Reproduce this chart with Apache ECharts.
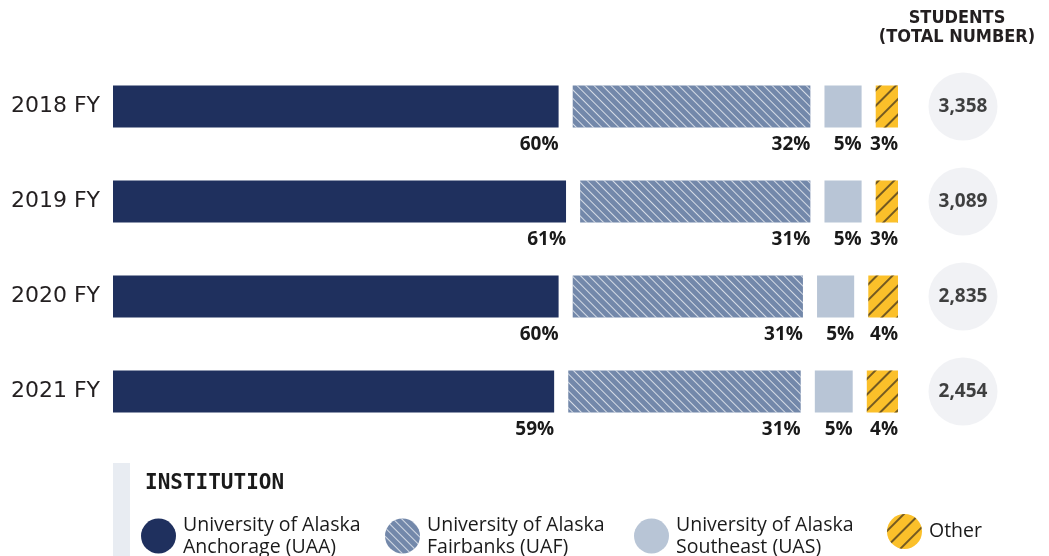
<!DOCTYPE html>
<html>
<head>
<meta charset="utf-8">
<script src="https://cdn.jsdelivr.net/npm/echarts@6/dist/echarts.min.js"></script>
<style>
html,body{margin:0;padding:0;background:#fff;}
#chart{width:1049px;height:556px;}
</style>
</head>
<body>
<div id="chart"></div>
<script>
// ---- data ----
const categories = ['2018 FY', '2019 FY', '2020 FY', '2021 FY'];
const seriesNames = [
  'University of Alaska\nAnchorage (UAA)',
  'University of Alaska\nFairbanks (UAF)',
  'University of Alaska\nSoutheast (UAS)',
  'Other'
];
const uaa = [60, 61, 60, 59.4];
const uaf = [32, 31, 31, 31.3];
const uas = [5, 5, 5, 5.1];
const other = [3, 3, 4, 4.2];
const students = [3358, 3089, 2835, 2454];

// ---- style ----
const GAP = 1.9; // visual gap between segments (axis units)
const colors = ['#1f305e', '#7388aa', '#b8c5d6', '#fbc02a'];

const pctLabel = {
  show: true,
  position: ['100%', '100%'],
  align: 'right',
  verticalAlign: 'top',
  offset: [0, 8],
  fontFamily: "'Open Sans', sans-serif",
  fontWeight: 'bold',
  fontSize: 19,
  color: '#1a1a1a',
  formatter: p => Math.round(p.value) + '%'
};

const decals = [
  null,
  { symbol: 'rect', symbolSize: 1, color: 'rgba(255,255,255,0.7)', dashArrayX: [1, 0], dashArrayY: [1, 4.6], rotation: Math.PI / 4 },
  null,
  { symbol: 'rect', symbolSize: 1, color: 'rgba(70,55,30,0.75)', dashArrayX: [1, 0], dashArrayY: [1.3, 8.5], rotation: -Math.PI / 4 }
];

const valueArrays = [uaa, uaf, uas, other];
const series = [];
valueArrays.forEach((arr, i) => {
  series.push({
    name: seriesNames[i],
    type: 'bar',
    stack: 'total',
    barWidth: 42,
    data: arr,
    itemStyle: decals[i] ? { color: colors[i], decal: decals[i] } : { color: colors[i] },
    label: pctLabel,
    emphasis: { disabled: true },
    silent: true
  });
  if (i < valueArrays.length - 1) {
    series.push({
      name: 'gap' + i,
      type: 'bar',
      stack: 'total',
      barWidth: 42,
      data: categories.map(() => GAP),
      itemStyle: { color: 'rgba(0,0,0,0)' },
      label: { show: false },
      silent: true
    });
  }
});

series.push({
  type: 'scatter',
  xAxisIndex: 1,
  yAxisIndex: 1,
  symbol: 'circle',
  symbolSize: [69, 68],
  data: students.map((v, i) => [0.5, i]),
  itemStyle: { color: '#eeeff3' },
  label: {
    show: true,
    position: 'inside',
    fontFamily: "'Open Sans', sans-serif",
    fontWeight: 'bold',
    fontSize: 19,
    color: '#111',
    formatter: p => students[p.dataIndex].toLocaleString('en-US')
  },
  silent: true
});

const legendLefts = [141, 385, 634, 887];
const legends = seriesNames.map((n, i) => ({
  data: [n],
  left: legendLefts[i],
  top: 514,
  orient: 'horizontal',
  icon: 'circle',
  itemWidth: 35,
  itemHeight: 35,
  itemGap: 0,
  selectedMode: false,
  padding: 0,
  textStyle: {
    fontFamily: "'Open Sans', sans-serif",
    fontSize: 19.5,
    lineHeight: 22,
    color: '#1a1a1a',
    padding: [0, 0, 0, 2]
  }
}));

const option = {
  animation: false,
  backgroundColor: '#fff',
  grid: [
    { left: 113, width: 785, top: 59, height: 380 },
    { left: 928, width: 70, top: 59, height: 380 }
  ],
  xAxis: [
    { type: 'value', min: 0, max: 100 + 3 * GAP, show: false, gridIndex: 0 },
    { type: 'value', min: 0, max: 1, show: false, gridIndex: 1 }
  ],
  yAxis: [
    {
      type: 'category', gridIndex: 0, inverse: true, data: categories,
      axisLine: { show: false }, axisTick: { show: false }, splitLine: { show: false },
      axisLabel: { fontFamily: "'DejaVu Sans', sans-serif", fontSize: 22, color: '#231f20', margin: 13 }
    },
    { type: 'category', gridIndex: 1, inverse: true, data: categories, show: false }
  ],
  legend: legends,
  series: series,
  graphic: [
    {
      type: 'text',
      style: {
        text: 'STUDENTS\n(TOTAL NUMBER)',
        x: 957, y: 28,
        textAlign: 'center', textVerticalAlign: 'middle',
        font: "bold 18px 'DejaVu Sans Condensed', 'Liberation Sans Narrow', sans-serif",
        lineHeight: 19,
        fill: '#231f20'
      }
    },
    {
      type: 'rect', shape: { x: 113, y: 463, width: 17, height: 93 },
      style: { fill: '#e8ecf2' }
    },
    {
      type: 'text',
      style: {
        text: 'INSTITUTION', x: 145, y: 484,
        textVerticalAlign: 'middle',
        font: "bold 21px 'DejaVu Sans Mono', monospace",
        fill: '#1a1a1a'
      }
    }
  ]
};

const chart = echarts.init(document.getElementById('chart'), null, { renderer: 'canvas' });
chart.setOption(option);
</script>
</body>
</html>
